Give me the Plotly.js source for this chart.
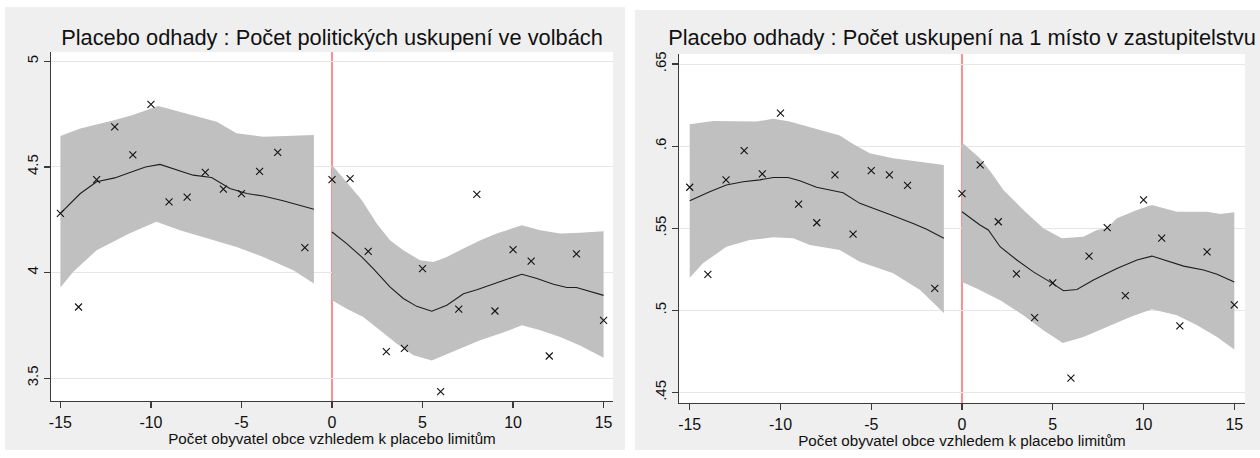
<!DOCTYPE html>
<html>
<head>
<meta charset="utf-8">
<script src="https://cdn.plot.ly/plotly-3.0.1.min.js"></script>
<style>
  html, body { margin: 0; padding: 0; background: #ffffff; width: 1260px; height: 458px; overflow: hidden; }
  #p1 { position: absolute; left: 5px; top: 7px; width: 620px; height: 443px; }
  #p2 { position: absolute; left: 635px; top: 10px; width: 625px; height: 440px; }
</style>
</head>
<body>
<div id="p1"></div>
<div id="p2"></div>
<script>
// ---------- Panel 1: Počet politických uskupení ve volbách ----------
const title1 = "Placebo odhady : Počet politických uskupení ve volbách";
const xTitle = "Počet obyvatel obce vzhledem k placebo limitům";
const xTickVals = [-15, -10, -5, 0, 5, 10, 15];
const xTickText = ["-15", "-10", "-5", "0", "5", "10", "15"];

const p1PointsX = [-15, -14, -13, -12, -11, -10, -9, -8, -7, -6, -5, -4, -3, -1.5,
                   0, 1, 2, 3, 4, 5, 6, 7, 8, 9, 10, 11, 12, 13.5, 15];
const p1PointsY = [4.28, 3.837, 4.44, 4.69, 4.557, 4.796, 4.335, 4.357, 4.474, 4.395, 4.374, 4.479, 4.569, 4.118,
                   4.44, 4.445, 4.10, 3.626, 3.641, 4.019, 3.436, 3.827, 4.370, 3.818, 4.109, 4.054, 3.605, 4.088, 3.774];

// left of cutoff
const p1FitLX = [-15, -13.9, -13.0, -12, -11.2, -10.3, -9.5, -8.77, -7.67, -6.65, -5.64, -4.7, -3.8, -2.7, -1.0];
const p1FitLY = [4.28, 4.374, 4.43, 4.448, 4.472, 4.50, 4.512, 4.493, 4.461, 4.45, 4.398, 4.374, 4.362, 4.34, 4.30];
const p1UpLX = [-15, -13.9, -12, -11, -9.6, -8.2, -6.37, -5.27, -3.8, -1.0];
const p1UpLY = [4.646, 4.682, 4.722, 4.746, 4.788, 4.756, 4.714, 4.659, 4.643, 4.651];
const p1LoLX = [-15, -14.3, -13.0, -11.2, -9.7, -8.4, -7.1, -5.27, -3.8, -2.14, -1.0];
const p1LoLY = [3.929, 4.003, 4.106, 4.185, 4.24, 4.20, 4.169, 4.121, 4.074, 4.011, 3.948];

// right of cutoff
const p1FitRX = [0, 0.81, 1.64, 2.28, 3.2, 3.94, 4.68, 5.51, 6.34, 7.26, 8.0, 8.92, 9.66, 10.49, 11.32, 12.23, 12.97, 13.5, 14.08, 15];
const p1FitRY = [4.192, 4.137, 4.074, 4.019, 3.932, 3.877, 3.84, 3.817, 3.845, 3.90, 3.919, 3.948, 3.968, 3.992, 3.972, 3.945, 3.929, 3.929, 3.916, 3.892];
const p1UpRX = [0, 1, 1.64, 2.47, 3.2, 3.94, 4.86, 5.6, 6.34, 7.26, 8.2, 9.1, 10.49, 11.5, 12.6, 13.7, 15];
const p1UpRY = [4.509, 4.406, 4.343, 4.232, 4.153, 4.106, 4.058, 4.05, 4.074, 4.114, 4.153, 4.185, 4.224, 4.20, 4.185, 4.188, 4.196];
const p1LoRX = [0, 0.81, 1.73, 2.65, 3.58, 4.5, 5.51, 6.34, 7.26, 8.18, 9.29, 10.49, 11.5, 12.6, 13.7, 15];
const p1LoRY = [3.869, 3.829, 3.79, 3.727, 3.663, 3.608, 3.584, 3.616, 3.647, 3.679, 3.711, 3.75, 3.727, 3.695, 3.655, 3.597];

const p1YTickVals = [3.5, 4, 4.5, 5];
const p1YTickText = ["3.5", "4", "4.5", "5"];

// ---------- Panel 2: Počet uskupení na 1 místo v zastupitelstvu ----------
const title2 = "Placebo odhady : Počet uskupení na 1 místo v zastupitelstvu";

const p2PointsX = [-15, -14, -13, -12, -11, -10, -9, -8, -7, -6, -5, -4, -3, -1.5,
                   0, 1, 2, 3, 4, 5, 6, 7, 8, 9, 10, 11, 12, 13.5, 15];
const p2PointsY = [0.575, 0.522, 0.5795, 0.5973, 0.5831, 0.6201, 0.5648, 0.5534, 0.5825, 0.5465, 0.5851, 0.5825, 0.5762, 0.5134,
                   0.5711, 0.5886, 0.554, 0.5223, 0.4957, 0.5168, 0.4589, 0.5331, 0.5504, 0.5091, 0.5673, 0.5441, 0.4906, 0.5357, 0.5034];

const p2FitLX = [-15, -13.9, -12.98, -12.06, -11.14, -10.4, -9.58, -8.94, -8.01, -6.55, -5.63, -4.7, -3.79, -2.69, -1.95, -1.0];
const p2FitLY = [0.5668, 0.5723, 0.5764, 0.5784, 0.5795, 0.5809, 0.5809, 0.579, 0.575, 0.5717, 0.5652, 0.5616, 0.5577, 0.553, 0.5494, 0.5439];
const p2UpLX = [-15, -13.7, -11.3, -10.4, -9.5, -8.4, -6.73, -6.0, -5.08, -3.79, -1.0];
const p2UpLY = [0.6134, 0.6154, 0.615, 0.6167, 0.615, 0.6116, 0.6065, 0.6014, 0.5957, 0.5927, 0.5886];
const p2LoLX = [-15, -14.27, -12.98, -11.69, -10.4, -9.3, -8.38, -6.73, -5.63, -3.79, -2.31, -1.0];
const p2LoLY = [0.5199, 0.5287, 0.5388, 0.5429, 0.5445, 0.5439, 0.5398, 0.5368, 0.5296, 0.5226, 0.5124, 0.4985];

const p2FitRX = [0, 0.99, 1.45, 2.1, 3.02, 3.93, 4.85, 5.59, 6.33, 7.24, 8.53, 9.64, 10.46, 11.29, 12.21, 13.31, 14.05, 15];
const p2FitRY = [0.5601, 0.552, 0.549, 0.5388, 0.5307, 0.5235, 0.5174, 0.512, 0.5128, 0.5185, 0.5256, 0.5307, 0.5331, 0.5303, 0.527, 0.5246, 0.5221, 0.5174];
const p2UpRX = [0, 0.99, 1.64, 2.28, 3.38, 4.48, 5.5, 6.69, 7.43, 7.98, 8.53, 9.64, 10.46, 11.84, 13.5, 14.23, 15];
const p2UpRY = [0.6022, 0.5927, 0.5835, 0.5734, 0.5612, 0.55, 0.5439, 0.5449, 0.549, 0.55, 0.5561, 0.5612, 0.5642, 0.5601, 0.5601, 0.5587, 0.5598];
const p2LoRX = [0, 0.81, 2.1, 3.38, 4.48, 5.55, 6.69, 7.98, 9.27, 10.46, 11.84, 12.95, 14.05, 15];
const p2LoRY = [0.5174, 0.5134, 0.5063, 0.4971, 0.488, 0.4802, 0.4839, 0.49, 0.4961, 0.5008, 0.4971, 0.491, 0.4839, 0.4762];

const p2YTickVals = [0.45, 0.5, 0.55, 0.6, 0.65];
const p2YTickText = [".45", ".5", ".55", ".6", ".65"];

// ---------- drawing helpers ----------
const FONT = "Arial, 'Liberation Sans', sans-serif";
const BAND = "#c0c0c0";

function band(ux, uy, lx, ly) {
  return {
    type: "scatter", mode: "lines",
    x: ux.concat(lx.slice().reverse()),
    y: uy.concat(ly.slice().reverse()),
    fill: "toself", fillcolor: BAND,
    line: { width: 0, color: BAND }, hoverinfo: "skip"
  };
}
function fit(x, y) {
  return { type: "scatter", mode: "lines", x: x, y: y,
           line: { color: "#1e1e1e", width: 1.1 }, hoverinfo: "skip" };
}
function pts(x, y) {
  return { type: "scatter", mode: "markers", x: x, y: y,
           marker: { symbol: "x-thin", size: 7, color: "#111", line: { width: 1.1, color: "#111" } } };
}

function makeLayout(title, xr, yr, yTv, yTt, m, titleY) {
  return {
    autosize: true,
    paper_bgcolor: "#efefef", plot_bgcolor: "#ffffff",
    showlegend: false,
    margin: m,
    font: { family: FONT, color: "#111" },
    title: { text: title, font: { family: FONT, size: 21.8, color: "#111" },
             xref: "paper", x: 0.5, xanchor: "center",
             yref: "container", y: titleY, yanchor: "middle" },
    xaxis: {
      range: xr, tickmode: "array", tickvals: xTickVals, ticktext: xTickText,
      showgrid: false, zeroline: false,
      showline: true, linecolor: "#3a3a3a", linewidth: 1.3,
      ticks: "outside", ticklen: 6, tickcolor: "#3a3a3a", tickwidth: 1.3,
      tickfont: { family: FONT, size: 16, color: "#111" },
      title: { text: xTitle, font: { family: FONT, size: 15.2, color: "#111" }, standoff: 1 }
    },
    yaxis: {
      range: yr, tickmode: "array", tickvals: yTv, ticktext: yTt,
      showgrid: true, gridcolor: "#e6e6e6", gridwidth: 1,
      zeroline: false,
      showline: true, linecolor: "#3a3a3a", linewidth: 1.3,
      ticks: "outside", ticklen: 6, tickcolor: "#3a3a3a", tickwidth: 1.3,
      tickangle: -90,
      tickfont: { family: FONT, size: 15, color: "#111" }
    },
    shapes: [{ type: "line", xref: "x", yref: "paper", x0: 0, x1: 0, y0: 0, y1: 1,
               layer: "below", line: { color: "#ff6a6a", width: 1.5 } }]
  };
}

const cfg = { staticPlot: true, displayModeBar: false };

Plotly.newPlot("p1", [
  band(p1UpLX, p1UpLY, p1LoLX, p1LoLY),
  band(p1UpRX, p1UpRY, p1LoRX, p1LoRY),
  fit(p1FitLX, p1FitLY),
  fit(p1FitRX, p1FitRY),
  pts(p1PointsX, p1PointsY)
], makeLayout(title1, [-15.52, 15.52], [3.392, 5.044], p1YTickVals, p1YTickText,
   { l: 46, r: 12.3, t: 45, b: 49.3, pad: 0 }, 1 - 30 / 443), cfg);

Plotly.newPlot("p2", [
  band(p2UpLX, p2UpLY, p2LoLX, p2LoLY),
  band(p2UpRX, p2UpRY, p2LoRX, p2LoRY),
  fit(p2FitLX, p2FitLY),
  fit(p2FitRX, p2FitRY),
  pts(p2PointsX, p2PointsY)
], makeLayout(title2, [-15.59, 15.59], [0.4437, 0.6561], p2YTickVals, p2YTickText,
   { l: 44.3, r: 15.3, t: 44.3, b: 47.3, pad: 0 }, 1 - 27 / 440), cfg);
</script>
</body>
</html>
